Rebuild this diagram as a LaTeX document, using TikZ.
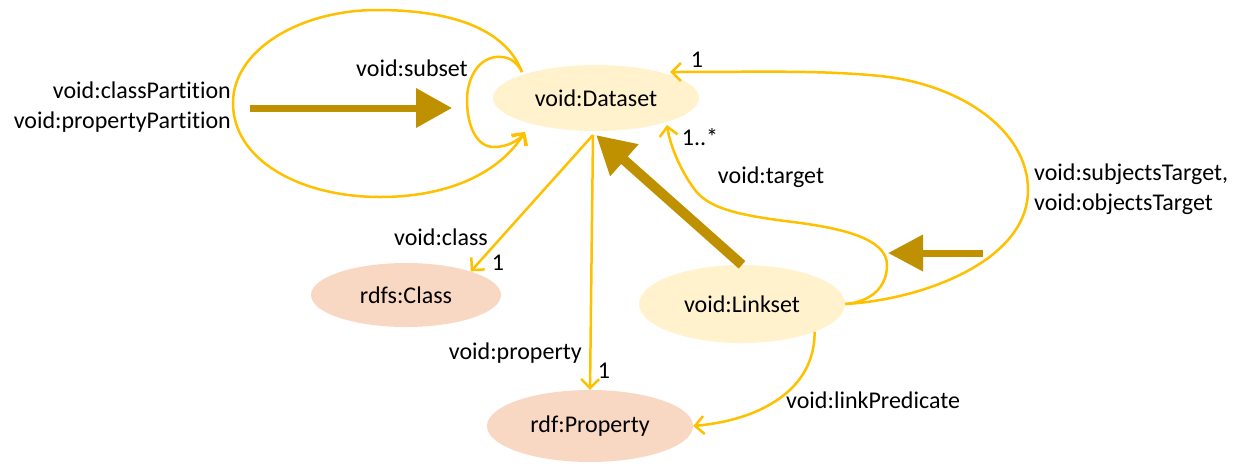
\documentclass[tikz,border=0pt]{standalone}
\usepackage{fontspec}
\setmainfont[Ligatures={NoCommon,NoRare}]{Carlito}
\usetikzlibrary{arrows.meta,shapes.geometric}
\definecolor{connc}{HTML}{FFC000}
\definecolor{thickc}{HTML}{BF9000}
\definecolor{yfill}{HTML}{FFF2CC}
\definecolor{pfill}{HTML}{F9D8C3}
\begin{document}
\begin{tikzpicture}[x=1pt,y=-1pt,
  txt/.style={font=\fontsize{24pt}{30pt}\selectfont, inner sep=0pt},
  ell/.style={ellipse, inner sep=0pt, font=\fontsize{24pt}{30pt}\selectfont},
  yell/.style={ell, fill=yfill},
  pell/.style={ell, fill=pfill},
  conn/.style={draw=connc, line width=2.5pt, -{Straight Barb[length=9pt,width=18pt]}},
  fat/.style={draw=thickc, line width=#1, -{Triangle[length=36pt,width=38pt]}},
]
\useasboundingbox (0,0) rectangle (1246,472);

% nodes
\node[yell, minimum width=206pt, minimum height=66pt] (ds) at (596,98) {void:Dataset};
\node[pell, minimum width=190pt, minimum height=64pt] (cls) at (406,295) {rdfs:Class};
\node[yell, minimum width=206pt, minimum height=78pt] (ls) at (742,304) {void:Linkset};
\node[pell, minimum width=206pt, minimum height=72pt] (prop) at (590,426) {rdf:Property};

% named free ends
\coordinate (loopS) at (522,72);
\coordinate (loopE) at (525,132);
\coordinate (dsT1) at (670,72);
\coordinate (dsT2) at (667,125);
\coordinate (dsB) at (596,135);
\coordinate (partTail) at (250,108);
\coordinate (partTip) at (452,108);
\coordinate (tgtTail) at (983,253);
\coordinate (tgtTip) at (888,253);

% loops on dataset
\draw[conn] (loopS) .. controls (505,28) and (450,10) .. (377,10)
  .. controls (300,10) and (233,50) .. (233,103)
  .. controls (233,160) and (300,197) .. (380,197)
  .. controls (450,197) and (500,172) .. (loopE);
\draw[conn] (loopS) .. controls (516,60) and (507,56) .. (496,57)
  .. controls (477,59) and (467,80) .. (467,100)
  .. controls (467,125) and (476,147) .. (494,147)
  .. controls (507,147) and (518,141) .. (loopE);

% thick arrows
\draw[fat=7pt] (partTail) -- (partTip);
\draw[fat=10pt, -{Triangle[length=38pt,width=40pt]}] (ls.north) -- (dsB);
\draw[fat=7pt, -{Triangle[length=35pt,width=35pt]}] (tgtTail) -- (tgtTip);

% straight connectors
\draw[conn] ([xshift=-3pt]dsB) -- (cls.20);
\draw[conn] ([xshift=-3pt]dsB) -- (prop.north);

% void:target
\draw[conn] (ls.east) .. controls (870,302) and (887,288) .. (887,265)
  .. controls (887,238) and (840,228) .. (793,222)
  .. controls (745,216) and (710,210) .. (695,190)
  .. controls (680,170) and (670,145) .. (dsT2);

% subjectsTarget / objectsTarget
\draw[conn] (ls.east) .. controls (920,300) and (1028,262) .. (1028,190)
  .. controls (1028,130) and (960,84) .. (880,76)
  .. controls (820,70) and (760,72) .. (dsT1);

% linkPredicate
\draw[conn] (ls.-21) .. controls (815,390) and (760,420) .. (prop.east);

% labels
\node[txt] (lsub) at (412,68) {void:subset};
\node[txt, anchor=east, align=right] (lpart) at (231,107) {void:classPartition\\void:propertyPartition};
\node[txt] (l1a) at (697,60) {1};
\node[txt] (l1b) at (700,137) {1..*};
\node[txt] (ltgt) at (771,177) {void:target};
\node[txt, anchor=west, align=left] (lst) at (1034,189) {void:subjectsTarget,\\void:objectsTarget};
\node[txt] (lcls) at (441,237) {void:class};
\node[txt] (l1c) at (498,263) {1};
\node[txt, anchor=east] (lprop) at (582,353) {void:property};
\node[txt] (l1d) at (604,371) {1};
\node[txt, anchor=west] (llp) at (786,400) {void:linkPredicate};
\end{tikzpicture}
\end{document}
